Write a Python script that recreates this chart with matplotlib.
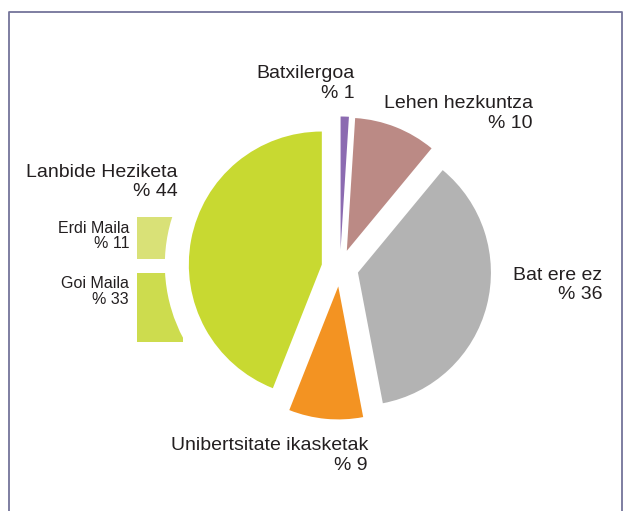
import matplotlib.pyplot as plt
from matplotlib.patches import Circle

plt.rcParams['font.family'] = ['Liberation Sans', 'DejaVu Sans']

labels = ['Batxilergoa', 'Lehen hezkuntza', 'Bat ere ez', 'Unibertsitate ikasketak', 'Lanbide Heziketa']
values = [1, 10, 36, 9, 44]
colors = ['#8c6bb1', '#bb8a85', '#b3b3b3', '#f39322', '#c8d931']

sub_labels = ['Erdi Maila', 'Goi Maila']
sub_values = [11, 33]
sub_colors = ['#d9e177', '#cddc4e']

fig = plt.figure(figsize=(6.23, 5.11), dpi=100)
ax = fig.add_axes([0, 0, 1, 1])

# y axis is inverted (pixel style), so the angles run the other way
# explode is in data units here (pixels)
wedges, _ = ax.pie(values, colors=colors, startangle=-90, counterclock=True,
                   explode=[18.5] * len(values), center=(340, 268), radius=133,
                   wedgeprops=dict(linewidth=0, zorder=3))

# white ring round the Lanbide Heziketa slice cuts the bars
apex = wedges[4].center
ax.add_patch(Circle(apex, 157, facecolor='white', edgecolor='none', zorder=2))

# bars for the Lanbide Heziketa breakdown
bar_tops = [217, 273]
bar_heights = [42, 69]
ax.bar([160, 160], bar_heights, bottom=bar_tops, width=46, color=sub_colors,
       align='center', zorder=1)

txt = '#231f20'
pos = [(355, 83.5), (533, 113.5), (602, 285), (368, 455.5), (178, 182)]
for lab, v, (x, y) in zip(labels, values, pos):
    ax.text(x, y, f'{lab}\n% {v}', ha='right', va='center', multialignment='right',
            fontsize=14, color=txt, linespacing=1.22)

sub_pos = [(129, 236), (129, 291.5)]
for lab, v, (x, y) in zip(sub_labels, sub_values, sub_pos):
    ax.text(x, y, f'{lab}\n% {v}', ha='right', va='center', multialignment='right',
            fontsize=11.5, color=txt, linespacing=1.08)

# frame
ax.plot([9, 9, 622, 622], [511, 12, 12, 511], color='#74749a', lw=1.3, zorder=5)

ax.set_xlim(0, 623)
ax.set_ylim(511, 0)
ax.set_aspect('equal')
ax.axis('off')

plt.savefig('out.png', dpi=100)
